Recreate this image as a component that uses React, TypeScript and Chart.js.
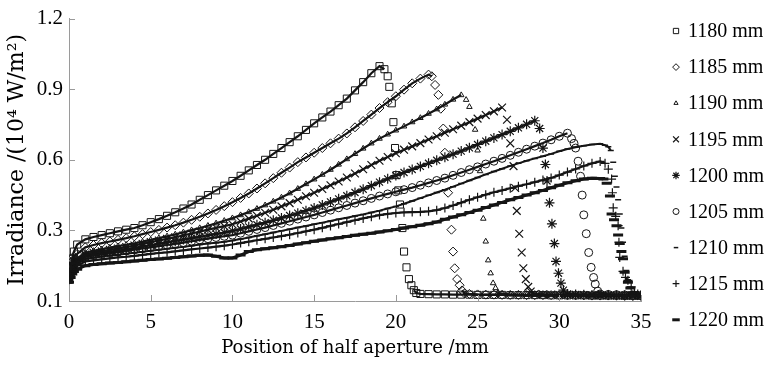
import { useEffect, useRef } from 'react';
import { Chart, registerables } from 'chart.js';
import { drawPoint } from 'chart.js/helpers';

Chart.register(...registerables);

// Shared sampling positions (mm), rows of 10 = 5 mm each
const gridX = [
  0, 0.5, 1, 1.5, 2, 2.5, 3, 3.5, 4, 4.5,
  5, 5.5, 6, 6.5, 7, 7.5, 8, 8.5, 9, 9.5,
  10, 10.5, 11, 11.5, 12, 12.5, 13, 13.5, 14, 14.5,
  15, 15.5, 16, 16.5, 17, 17.5, 18, 18.5, 19, 19.5,
  20, 20.5, 21, 21.5, 22, 22.5, 23, 23.5, 24, 24.5,
  25, 25.5, 26, 26.5, 27, 27.5, 28, 28.5, 29, 29.5,
  30, 30.5, 31, 31.5, 32, 32.5, 33, 33.5, 34, 34.5,
  35,
];

const seriesLabels = ['1180 mm', '1185 mm', '1190 mm', '1195 mm', '1200 mm', '1205 mm', '1210 mm', '1215 mm', '1220 mm'];
const xTicks = [0, 5, 10, 15, 20, 25, 30, 35];
const yTickValues = [0, 0.3, 0.6, 0.9, 1.2];
const yTickLabels = ['0.1', '0.3', '0.6', '0.9', '1.2'];

const y1180 = [
  0.09, 0.24, 0.262, 0.272, 0.28, 0.288, 0.296, 0.303, 0.31, 0.322,
  0.335, 0.348, 0.362, 0.377, 0.393, 0.41, 0.43, 0.45, 0.47, 0.49,
  0.51, 0.532, 0.555, 0.578, 0.6, 0.625, 0.65, 0.675, 0.7, 0.727,
  0.755, 0.78, 0.805, 0.832, 0.86, 0.895, 0.93, 0.968, 0.998, null,
  null, null, null, 0.03, 0.029, 0.028, 0.028, 0.027, 0.027, 0.027,
  0.026, 0.026, 0.026, 0.026, 0.025, 0.025, 0.025, 0.025, 0.025, 0.024,
  0.024, 0.024, 0.024, 0.024, 0.023, 0.023, 0.023, 0.023, 0.022, 0.022,
  0.022,
];
const edge1180X = [0.1, 0.2, 0.3, 19.3, 19.5, 19.6, 19.75, 19.85, 19.95, 20.05, 20.15, 20.25, 20.4, 20.5, 20.65, 20.8, 20.95, 21.1, 21.25];
const edge1180Y = [0.14, 0.18, 0.21, 0.985, 0.955, 0.91, 0.84, 0.76, 0.65, 0.535, 0.47, 0.41, 0.31, 0.21, 0.143, 0.093, 0.067, 0.046, 0.034];

const y1185 = [
  0.1, 0.2, 0.228, 0.238, 0.246, 0.253, 0.26, 0.267, 0.275, 0.284,
  0.293, 0.302, 0.312, 0.322, 0.333, 0.345, 0.358, 0.372, 0.387, 0.403,
  0.42, 0.438, 0.457, 0.478, 0.5, 0.522, 0.545, 0.567, 0.59, 0.61,
  0.63, 0.65, 0.67, 0.69, 0.712, 0.738, 0.765, 0.792, 0.82, 0.845,
  0.87, 0.898, 0.925, 0.945, 0.962, null, null, null, null, 0.03,
  0.028, 0.027, 0.027, 0.026, 0.026, 0.026, 0.025, 0.025, 0.025, 0.025,
  0.024, 0.024, 0.024, 0.024, 0.023, 0.023, 0.023, 0.023, 0.022, 0.022,
  0.022,
];
const edge1185X = [0.1, 0.2, 0.3, 22.2, 22.4, 22.6, 22.75, 22.9, 23.0, 23.2, 23.4, 23.5, 23.6, 23.75, 23.9, 24.05, 24.2];
const edge1185Y = [0.14, 0.17, 0.19, 0.955, 0.918, 0.876, 0.817, 0.733, 0.63, 0.46, 0.303, 0.21, 0.139, 0.093, 0.067, 0.045, 0.032];

const y1190 = [
  0.09, 0.18, 0.205, 0.213, 0.22, 0.227, 0.233, 0.239, 0.245, 0.252,
  0.26, 0.267, 0.275, 0.283, 0.292, 0.301, 0.31, 0.32, 0.33, 0.341,
  0.352, 0.365, 0.378, 0.392, 0.407, 0.423, 0.44, 0.458, 0.477, 0.497,
  0.517, 0.537, 0.558, 0.58, 0.603, 0.625, 0.648, 0.67, 0.69, 0.708,
  0.725, 0.742, 0.76, 0.778, 0.796, 0.815, 0.835, 0.856, 0.875, null,
  null, null, null, 0.03, 0.028, 0.027, 0.026, 0.026, 0.025, 0.025,
  0.025, 0.024, 0.024, 0.024, 0.023, 0.023, 0.023, 0.023, 0.022, 0.022,
  0.022,
];
const edge1190X = [0.1, 0.2, 0.3, 24.3, 24.5, 24.85, 25.0, 25.15, 25.35, 25.5, 25.65, 25.8, 25.95, 26.1, 26.25];
const edge1190Y = [0.13, 0.16, 0.175, 0.855, 0.825, 0.728, 0.64, 0.552, 0.35, 0.253, 0.173, 0.118, 0.076, 0.055, 0.035];

const y1195 = [
  0.1, 0.175, 0.197, 0.205, 0.211, 0.217, 0.223, 0.229, 0.236, 0.243,
  0.25, 0.257, 0.264, 0.271, 0.279, 0.287, 0.295, 0.303, 0.311, 0.318,
  0.326, 0.338, 0.35, 0.362, 0.375, 0.388, 0.402, 0.416, 0.43, 0.445,
  0.46, 0.476, 0.492, 0.508, 0.525, 0.542, 0.56, 0.578, 0.596, 0.612,
  0.628, 0.643, 0.657, 0.671, 0.686, 0.7, 0.715, 0.73, 0.745, 0.76,
  0.775, 0.79, 0.806, 0.822, null, null, null, 0.03, 0.028, 0.027,
  0.026, 0.026, 0.025, 0.025, 0.024, 0.024, 0.024, 0.023, 0.023, 0.023,
  0.022,
];
const edge1195X = [0.1, 0.2, 0.3, 26.8, 27.0, 27.2, 27.3, 27.4, 27.55, 27.7, 27.8, 27.95, 28.1, 28.25];
const edge1195Y = [0.12, 0.15, 0.165, 0.77, 0.67, 0.573, 0.48, 0.383, 0.286, 0.206, 0.139, 0.093, 0.06, 0.04];

const y1200 = [
  0.1, 0.17, 0.192, 0.198, 0.204, 0.209, 0.214, 0.219, 0.225, 0.231,
  0.237, 0.243, 0.249, 0.255, 0.261, 0.267, 0.273, 0.279, 0.285, 0.291,
  0.298, 0.306, 0.315, 0.324, 0.333, 0.343, 0.353, 0.363, 0.373, 0.384,
  0.395, 0.408, 0.421, 0.434, 0.447, 0.461, 0.475, 0.49, 0.505, 0.519,
  0.533, 0.546, 0.559, 0.572, 0.585, 0.598, 0.611, 0.624, 0.637, 0.651,
  0.665, 0.679, 0.693, 0.707, 0.721, 0.736, 0.751, 0.766, null, null,
  null, 0.03, 0.028, 0.027, 0.026, 0.025, 0.025, 0.024, 0.024, 0.023,
  0.023,
];
const edge1200X = [0.1, 0.2, 0.3, 28.8, 29.0, 29.15, 29.25, 29.4, 29.55, 29.7, 29.8, 29.95, 30.1, 30.25];
const edge1200Y = [0.12, 0.145, 0.16, 0.733, 0.65, 0.58, 0.51, 0.417, 0.328, 0.244, 0.168, 0.118, 0.076, 0.046];

const y1205 = [
  0.1, 0.165, 0.187, 0.193, 0.198, 0.203, 0.208, 0.213, 0.218, 0.223,
  0.228, 0.233, 0.238, 0.243, 0.248, 0.254, 0.26, 0.265, 0.27, 0.275,
  0.28, 0.288, 0.296, 0.304, 0.312, 0.321, 0.33, 0.339, 0.348, 0.357,
  0.366, 0.376, 0.386, 0.396, 0.406, 0.416, 0.426, 0.436, 0.446, 0.455,
  0.464, 0.473, 0.482, 0.492, 0.502, 0.512, 0.522, 0.534, 0.546, 0.558,
  0.57, 0.582, 0.594, 0.606, 0.619, 0.632, 0.645, 0.658, 0.671, 0.685,
  0.7, 0.713, null, null, null, 0.03, 0.028, 0.027, 0.026, 0.025,
  0.024,
];
const edge1205X = [0.1, 0.2, 0.3, 30.75, 30.9, 31.0, 31.15, 31.3, 31.4, 31.5, 31.65, 31.8, 31.95, 32.1, 32.2, 32.35];
const edge1205Y = [0.12, 0.14, 0.155, 0.69, 0.67, 0.65, 0.594, 0.53, 0.45, 0.366, 0.286, 0.206, 0.143, 0.1, 0.072, 0.042];

const y1210 = [
  0.1, 0.16, 0.178, 0.184, 0.189, 0.193, 0.197, 0.201, 0.205, 0.209,
  0.214, 0.218, 0.222, 0.226, 0.23, 0.235, 0.24, 0.244, 0.248, 0.252,
  0.257, 0.263, 0.27, 0.277, 0.284, 0.291, 0.298, 0.305, 0.312, 0.319,
  0.326, 0.333, 0.34, 0.347, 0.354, 0.361, 0.368, 0.376, 0.384, 0.393,
  0.402, 0.413, 0.425, 0.437, 0.449, 0.461, 0.473, 0.486, 0.499, 0.512,
  0.525, 0.538, 0.55, 0.562, 0.574, 0.585, 0.596, 0.606, 0.615, 0.625,
  0.636, 0.646, 0.653, 0.66, 0.665, 0.668, null, null, null, 0.035,
  0.028,
];
const edge1210X = [0.1, 0.2, 0.3, 32.8, 33.0, 33.15, 33.3, 33.4, 33.5, 33.6, 33.7, 33.8, 33.9, 34.0, 34.1, 34.2, 34.3];
const edge1210Y = [0.115, 0.135, 0.15, 0.662, 0.655, 0.64, 0.59, 0.53, 0.484, 0.43, 0.37, 0.31, 0.25, 0.19, 0.13, 0.09, 0.06];

const y1215 = [
  0.09, 0.15, 0.168, 0.173, 0.177, 0.181, 0.185, 0.188, 0.192, 0.196,
  0.2, 0.204, 0.207, 0.211, 0.215, 0.219, 0.223, 0.227, 0.231, 0.235,
  0.24, 0.246, 0.252, 0.258, 0.264, 0.27, 0.276, 0.282, 0.289, 0.296,
  0.303, 0.311, 0.319, 0.327, 0.335, 0.343, 0.351, 0.358, 0.365, 0.37,
  0.374, 0.377, 0.378, 0.379, 0.381, 0.386, 0.395, 0.406, 0.418, 0.43,
  0.441, 0.452, 0.462, 0.47, 0.479, 0.488, 0.496, 0.505, 0.514, 0.523,
  0.535, 0.548, 0.561, 0.574, 0.585, 0.593, null, null, null, null,
  0.025,
];
const edge1215X = [0.1, 0.2, 0.3, 32.8, 33.0, 33.2, 33.25, 33.3, 33.45, 33.6, 33.65, 33.7, 33.9, 34.05, 34.2, 34.4, 34.6, 34.8];
const edge1215Y = [0.11, 0.13, 0.14, 0.585, 0.56, 0.518, 0.46, 0.396, 0.36, 0.32, 0.25, 0.185, 0.126, 0.1, 0.088, 0.06, 0.04, 0.03];

const y1220 = [
  0.08, 0.135, 0.15, 0.155, 0.158, 0.161, 0.164, 0.167, 0.17, 0.173,
  0.176, 0.179, 0.182, 0.185, 0.188, 0.191, 0.194, 0.195, 0.19, 0.183,
  0.183, 0.195, 0.21, 0.218, 0.222, 0.226, 0.231, 0.236, 0.242, 0.248,
  0.254, 0.259, 0.264, 0.269, 0.274, 0.279, 0.284, 0.288, 0.293, 0.298,
  0.304, 0.31, 0.316, 0.322, 0.328, 0.336, 0.347, 0.357, 0.366, 0.376,
  0.386, 0.397, 0.408, 0.419, 0.43, 0.44, 0.45, 0.46, 0.47, 0.481,
  0.492, 0.502, 0.511, 0.518, 0.522, 0.521, null, null, null, null,
  null,
];
const edge1220X = [0.1, 0.2, 0.3, 32.7, 32.9, 33.1, 33.2, 33.35, 33.5, 33.6, 33.7, 33.8, 33.9, 34.0, 34.2, 34.35, 34.5, 34.65];
const edge1220Y = [0.1, 0.115, 0.125, 0.518, 0.5, 0.446, 0.37, 0.345, 0.32, 0.28, 0.244, 0.21, 0.18, 0.122, 0.08, 0.055, 0.035, 0.028];

const gridSeries = [y1180, y1185, y1190, y1195, y1200, y1205, y1210, y1215, y1220];
const edgeXs = [edge1180X, edge1185X, edge1190X, edge1195X, edge1200X, edge1205X, edge1210X, edge1215X, edge1220X];
const edgeYs = [edge1180Y, edge1185Y, edge1190Y, edge1195Y, edge1200Y, edge1205Y, edge1210Y, edge1215Y, edge1220Y];

const markerStyles = [
  { pointStyle: 'rect', radius: 5, borderWidth: 1, line: 2.2 },
  { pointStyle: 'rectRot', radius: 4.5, borderWidth: 1, line: 2.2 },
  { pointStyle: 'triangle', radius: 3.2, borderWidth: 1, line: 2.2 },
  { pointStyle: 'crossRot', radius: 5.5, borderWidth: 1.2, line: 2.2 },
  { pointStyle: 'star', radius: 5, borderWidth: 1.2, line: 2.2 },
  { pointStyle: 'circle', radius: 4, borderWidth: 1, line: 2.2 },
  { pointStyle: 'line', radius: 3, borderWidth: 1.5, line: 2 },
  { pointStyle: 'cross', radius: 4.5, borderWidth: 1.2, line: 2.2 },
  { pointStyle: 'line', radius: 5, borderWidth: 3, line: 3 },
];

const INK = '#151515';
const AXIS = '#9a9a9a';

function buildPoints(i: number) {
  const pts: { x: number; y: number }[] = [];
  const ys = gridSeries[i];
  gridX.forEach((x, k) => {
    const y = ys[k];
    if (y !== null && y !== undefined) pts.push({ x, y });
  });
  edgeXs[i].forEach((x, k) => pts.push({ x, y: edgeYs[i][k] }));
  pts.sort((a, b) => a.x - b.x);
  return pts;
}

const inwardTicks = {
  id: 'inwardTicks',
  afterDraw(chart: any) {
    const { ctx, scales, chartArea } = chart;
    ctx.save();
    ctx.strokeStyle = AXIS;
    ctx.lineWidth = 1;
    ctx.beginPath();
    scales.x.ticks.forEach((t: any) => {
      const px = Math.round(scales.x.getPixelForValue(t.value)) + 0.5;
      ctx.moveTo(px, chartArea.bottom);
      ctx.lineTo(px, chartArea.bottom - 6);
    });
    scales.y.ticks.forEach((t: any) => {
      const py = Math.round(scales.y.getPixelForValue(t.value)) + 0.5;
      ctx.moveTo(chartArea.left, py);
      ctx.lineTo(chartArea.left + 6, py);
    });
    ctx.stroke();
    ctx.restore();
  },
};

const sideLegend = {
  id: 'sideLegend',
  afterDraw(chart: any) {
    const { ctx } = chart;
    ctx.save();
    ctx.font = '20px "Liberation Serif"';
    ctx.textBaseline = 'middle';
    ctx.textAlign = 'left';
    seriesLabels.forEach((label, i) => {
      const y = 31 + i * 36.1;
      const st = markerStyles[i];
      ctx.strokeStyle = INK;
      ctx.fillStyle = 'rgba(0,0,0,0)';
      ctx.lineWidth = st.borderWidth;
      drawPoint(ctx, { pointStyle: st.pointStyle, radius: st.radius * 0.75, borderWidth: st.borderWidth, rotation: 0 } as any, 676, y);
      ctx.fillStyle = '#000';
      ctx.fillText(label, 688, y + 1);
    });
    ctx.restore();
  },
};

export default function App() {
  const ref = useRef<HTMLCanvasElement | null>(null);
  useEffect(() => {
    if (!ref.current) return;
    const datasets = seriesLabels.map((label, i) => ({
      label,
      data: buildPoints(i),
      showLine: true,
      borderWidth: markerStyles[i].line,
      segment: {
        borderColor: (c: any) => (c.p1.parsed.y < c.p0.parsed.y - 0.015 ? 'rgba(0,0,0,0)' : INK),
      },
      pointStyle: markerStyles[i].pointStyle as any,
      pointRadius: markerStyles[i].radius,
      pointBorderWidth: markerStyles[i].borderWidth,
      pointBorderColor: INK,
      pointBackgroundColor: 'rgba(0,0,0,0)',
      borderColor: INK,
      backgroundColor: 'rgba(0,0,0,0)',
    }));
    const chart = new Chart(ref.current, {
      type: 'scatter',
      data: { datasets },
      plugins: [inwardTicks, sideLegend],
      options: {
        animation: false,
        responsive: true,
        maintainAspectRatio: false,
        layout: { padding: { left: 0, top: 15, right: 132, bottom: 0 } },
        plugins: { legend: { display: false }, tooltip: { enabled: false } },
        scales: {
          x: {
            type: 'linear',
            min: 0,
            max: 35,
            afterFit: (s: any) => { s.height = 64; },
            afterBuildTicks: (s: any) => { s.ticks = xTicks.map((v) => ({ value: v })); },
            ticks: { color: '#000', font: { family: 'Liberation Serif', size: 21 }, padding: 9, maxRotation: 0, autoSkip: false },
            grid: { display: true, drawOnChartArea: false, drawTicks: false },
            border: { display: true, color: AXIS, width: 1 },
            title: {
              display: true,
              text: 'Position of half aperture /mm',
              color: '#000',
              font: { family: 'DejaVu Serif', size: 18 },
              padding: { top: 0, bottom: 6 },
            },
          },
          y: {
            type: 'linear',
            min: 0,
            max: 1.2,
            afterFit: (s: any) => { s.width = 69; },
            afterBuildTicks: (s: any) => { s.ticks = yTickValues.map((v) => ({ value: v })); },
            ticks: {
              color: '#000',
              font: { family: 'Liberation Serif', size: 21 },
              padding: 6,
              callback: (_v: any, i: number) => yTickLabels[i],
            },
            grid: { display: true, drawOnChartArea: false, drawTicks: false },
            border: { display: true, color: AXIS, width: 1 },
            title: {
              display: true,
              text: 'Irradiance /(10⁴ W/m²)',
              color: '#000',
              font: { family: 'DejaVu Serif', size: 22 },
              padding: { top: 4, bottom: 0 },
            },
          },
        },
      },
    });
    return () => chart.destroy();
  }, []);
  return (
    <div style={{ position: 'absolute', left: 0, top: 0, width: 773, height: 365, background: '#fff' }}>
      <canvas ref={ref} />
    </div>
  );
}
